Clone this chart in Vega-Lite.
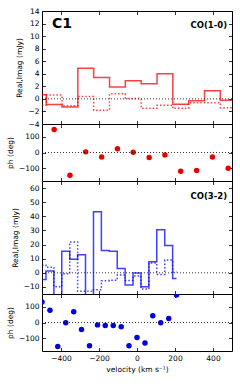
{
  "$schema": "https://vega.github.io/schema/vega-lite/v6.json",
  "autosize": {"type": "pad"},
  "padding": {"left": 5, "top": 6, "right": 3, "bottom": 5},
  "bounds": "flush",
  "datasets": {
    "co10": [
      {"v": -519, "re": 0.64, "im": -1.0},
      {"v": -436, "re": -0.9, "im": 0.6},
      {"v": -353, "re": -1.3, "im": -1.1},
      {"v": -270, "re": 4.9, "im": 0.4},
      {"v": -186, "re": 3.4, "im": -1.8},
      {"v": -103, "re": 1.9, "im": 0.8},
      {"v": -20, "re": 2.9, "im": 0.05},
      {"v": 64, "re": 2.4, "im": -1.5},
      {"v": 147, "re": 4.0, "im": -1.0},
      {"v": 230, "re": -0.85, "im": -1.5},
      {"v": 314, "re": -0.3, "im": -0.6},
      {"v": 397, "re": 1.3, "im": -0.6},
      {"v": 480, "re": -0.2, "im": -1.4},
      {"v": 563, "re": -0.2, "im": -1.4}
    ],
    "ph10": [
      {"v": -436, "ph": 145},
      {"v": -353, "ph": -143},
      {"v": -270, "ph": 4},
      {"v": -186, "ph": -28},
      {"v": -103, "ph": 23},
      {"v": -20, "ph": 2},
      {"v": 64, "ph": -32},
      {"v": 147, "ph": -15},
      {"v": 230, "ph": -119},
      {"v": 314, "ph": -113},
      {"v": 397, "ph": -28},
      {"v": 480, "ph": -100}
    ],
    "co32": [
      {"v": -500, "re": -4.7, "im": 5.4},
      {"v": -458, "re": 1.2, "im": 4.0},
      {"v": -417, "re": -18.6, "im": -9.9},
      {"v": -375, "re": 15.3, "im": -0.7},
      {"v": -333, "re": 9.6, "im": 21.9},
      {"v": -292, "re": 12.7, "im": -13},
      {"v": -250, "re": -20, "im": -13},
      {"v": -208, "re": 43.3, "im": -12},
      {"v": -167, "re": 15.8, "im": -5.6},
      {"v": -125, "re": 15.3, "im": -5.3},
      {"v": -83, "re": 3.1, "im": -1.5},
      {"v": -42, "re": -8.7, "im": -5.5},
      {"v": 0, "re": -0.2, "im": -2.2},
      {"v": 42, "re": -9.9, "im": -11.5},
      {"v": 83, "re": 7.8, "im": 7.0},
      {"v": 125, "re": 30.4, "im": -1.2},
      {"v": 167, "re": 19.3, "im": 9.0},
      {"v": 208, "re": -4.0, "im": 0.5}
    ],
    "ph32": [
      {"v": -500, "ph": 129},
      {"v": -458, "ph": 77},
      {"v": -417, "ph": -152},
      {"v": -375, "ph": -2},
      {"v": -333, "ph": 68},
      {"v": -292, "ph": -44},
      {"v": -250, "ph": -147},
      {"v": -208, "ph": -15},
      {"v": -167, "ph": -19},
      {"v": -125, "ph": -19},
      {"v": -83, "ph": -27},
      {"v": -42, "ph": -147},
      {"v": 0, "ph": -95},
      {"v": 42, "ph": -130},
      {"v": 83, "ph": 42},
      {"v": 125, "ph": -2},
      {"v": 167, "ph": 25},
      {"v": 208, "ph": 173}
    ]
  },
  "spacing": 0,
  "vconcat": [
    {
      "width": 190, "height": 113,
      "resolve": {"axis": {"x": "independent", "y": "independent"}},
      "layer": [
        {
          "data": {"name": "co10"},
          "mark": {"type": "line", "interpolate": "step", "color": "#ff0000", "opacity": 0.75, "strokeWidth": 1.5, "clip": true},
          "encoding": {
            "x": {"field": "v", "type": "quantitative", "scale": {"domain": [-500, 500], "nice": false}, "axis": {"orient": "bottom", "values": [-400, -200, 0, 200, 400], "labels": false, "title": null}},
            "y": {"field": "re", "type": "quantitative", "scale": {"domain": [-4, 14], "nice": false, "zero": false}, "axis": {"orient": "left", "values": [-4, -2, 0, 2, 4, 6, 8, 10, 12, 14], "title": "Real,Imag (mJy)"}}
          }
        },
        {
          "data": {"name": "co10"},
          "mark": {"type": "line", "interpolate": "step", "color": "#ff0000", "opacity": 0.75, "strokeWidth": 1.5, "strokeDash": [1.5, 2], "clip": true},
          "encoding": {
            "x": {"field": "v", "type": "quantitative", "scale": {"domain": [-500, 500], "nice": false}, "axis": null},
            "y": {"field": "im", "type": "quantitative", "scale": {"domain": [-4, 14], "nice": false, "zero": false}, "axis": null}
          }
        },
        {
          "data": {"values": [{}]},
          "mark": {"type": "rule", "color": "#000", "strokeWidth": 0.8, "strokeDash": [1, 2]},
          "encoding": {
            "x": {"datum": -500, "type": "quantitative", "scale": {"domain": [-500, 500], "nice": false}, "axis": {"orient": "top", "values": [-400, -200, 0, 200, 400], "labels": false, "title": null}},
            "x2": {"datum": 500},
            "y": {"datum": 0, "type": "quantitative", "scale": {"domain": [-4, 14], "nice": false, "zero": false}, "axis": {"orient": "right", "values": [-4, -2, 0, 2, 4, 6, 8, 10, 12, 14], "labels": false, "title": null}}
          }
        },
        {
          "data": {"values": [{}]},
          "mark": {"type": "text", "text": "C1", "align": "left", "baseline": "alphabetic", "fontSize": 14, "fontWeight": "bold", "font": "DejaVu Sans", "color": "#000"},
          "encoding": {
            "x": {"datum": -447, "type": "quantitative", "scale": {"domain": [-500, 500], "nice": false}, "axis": null},
            "y": {"datum": 11.3, "type": "quantitative", "scale": {"domain": [-4, 14], "nice": false, "zero": false}, "axis": null}
          }
        },
        {
          "data": {"values": [{}]},
          "mark": {"type": "text", "text": "CO(1-0)", "align": "right", "baseline": "alphabetic", "fontSize": 8.5, "fontWeight": "bold", "font": "DejaVu Sans", "color": "#000"},
          "encoding": {
            "x": {"datum": 474, "type": "quantitative", "scale": {"domain": [-500, 500], "nice": false}, "axis": null},
            "y": {"datum": 11.3, "type": "quantitative", "scale": {"domain": [-4, 14], "nice": false, "zero": false}, "axis": null}
          }
        }
      ]
    },
    {
      "width": 190, "height": 57,
      "resolve": {"axis": {"x": "independent", "y": "independent"}},
      "layer": [
        {
          "data": {"name": "ph10"},
          "mark": {"type": "point", "filled": true, "size": 30, "color": "#e80000", "opacity": 1, "clip": true},
          "encoding": {
            "x": {"field": "v", "type": "quantitative", "scale": {"domain": [-500, 500], "nice": false}, "axis": {"orient": "bottom", "values": [-400, -200, 0, 200, 400], "labels": false, "title": null}},
            "y": {"field": "ph", "type": "quantitative", "scale": {"domain": [-180, 180], "nice": false, "zero": false}, "axis": {"orient": "left", "values": [-100, 0, 100], "title": "ph (deg)"}}
          }
        },
        {
          "data": {"values": [{}]},
          "mark": {"type": "rule", "color": "#000", "strokeWidth": 0.8, "strokeDash": [1, 2]},
          "encoding": {
            "x": {"datum": -500, "type": "quantitative", "scale": {"domain": [-500, 500], "nice": false}, "axis": {"orient": "top", "values": [-400, -200, 0, 200, 400], "labels": false, "title": null}},
            "x2": {"datum": 500},
            "y": {"datum": 0, "type": "quantitative", "scale": {"domain": [-180, 180], "nice": false, "zero": false}, "axis": {"orient": "right", "values": [-100, 0, 100], "labels": false, "title": null}}
          }
        }
      ]
    },
    {
      "width": 190, "height": 113,
      "resolve": {"axis": {"x": "independent", "y": "independent"}},
      "layer": [
        {
          "data": {"name": "co32"},
          "mark": {"type": "line", "interpolate": "step", "color": "#0000ff", "opacity": 0.75, "strokeWidth": 1.5, "clip": true},
          "encoding": {
            "x": {"field": "v", "type": "quantitative", "scale": {"domain": [-500, 500], "nice": false}, "axis": {"orient": "bottom", "values": [-400, -200, 0, 200, 400], "labels": false, "title": null}},
            "y": {"field": "re", "type": "quantitative", "scale": {"domain": [-15, 65], "nice": false, "zero": false}, "axis": {"orient": "left", "values": [-10, 0, 10, 20, 30, 40, 50, 60], "title": "Real,Imag (mJy)"}}
          }
        },
        {
          "data": {"name": "co32"},
          "mark": {"type": "line", "interpolate": "step", "color": "#0000ff", "opacity": 0.75, "strokeWidth": 1.5, "strokeDash": [1.5, 2], "clip": true},
          "encoding": {
            "x": {"field": "v", "type": "quantitative", "scale": {"domain": [-500, 500], "nice": false}, "axis": null},
            "y": {"field": "im", "type": "quantitative", "scale": {"domain": [-15, 65], "nice": false, "zero": false}, "axis": null}
          }
        },
        {
          "data": {"values": [{}]},
          "mark": {"type": "rule", "color": "#000", "strokeWidth": 0.8, "strokeDash": [1, 2]},
          "encoding": {
            "x": {"datum": -500, "type": "quantitative", "scale": {"domain": [-500, 500], "nice": false}, "axis": {"orient": "top", "values": [-400, -200, 0, 200, 400], "labels": false, "title": null}},
            "x2": {"datum": 500},
            "y": {"datum": 0, "type": "quantitative", "scale": {"domain": [-15, 65], "nice": false, "zero": false}, "axis": {"orient": "right", "values": [-10, 0, 10, 20, 30, 40, 50, 60], "labels": false, "title": null}}
          }
        },
        {
          "data": {"values": [{}]},
          "mark": {"type": "text", "text": "CO(3-2)", "align": "right", "baseline": "alphabetic", "fontSize": 8.5, "fontWeight": "bold", "font": "DejaVu Sans", "color": "#000"},
          "encoding": {
            "x": {"datum": 474, "type": "quantitative", "scale": {"domain": [-500, 500], "nice": false}, "axis": null},
            "y": {"datum": 52.3, "type": "quantitative", "scale": {"domain": [-15, 65], "nice": false, "zero": false}, "axis": null}
          }
        }
      ]
    },
    {
      "width": 190, "height": 57,
      "resolve": {"axis": {"x": "independent", "y": "independent"}},
      "layer": [
        {
          "data": {"name": "ph32"},
          "mark": {"type": "point", "filled": true, "size": 30, "color": "#0000e0", "opacity": 1, "clip": true},
          "encoding": {
            "x": {"field": "v", "type": "quantitative", "scale": {"domain": [-500, 500], "nice": false}, "axis": {"orient": "bottom", "values": [-400, -200, 0, 200, 400], "title": "velocity (km s⁻¹)"}},
            "y": {"field": "ph", "type": "quantitative", "scale": {"domain": [-180, 180], "nice": false, "zero": false}, "axis": {"orient": "left", "values": [-100, 0, 100], "title": "ph (deg)"}}
          }
        },
        {
          "data": {"values": [{}]},
          "mark": {"type": "rule", "color": "#000", "strokeWidth": 0.8, "strokeDash": [1, 2]},
          "encoding": {
            "x": {"datum": -500, "type": "quantitative", "scale": {"domain": [-500, 500], "nice": false}, "axis": {"orient": "top", "values": [-400, -200, 0, 200, 400], "labels": false, "title": null}},
            "x2": {"datum": 500},
            "y": {"datum": 0, "type": "quantitative", "scale": {"domain": [-180, 180], "nice": false, "zero": false}, "axis": {"orient": "right", "values": [-100, 0, 100], "labels": false, "title": null}}
          }
        }
      ]
    }
  ],
  "config": {
    "font": "DejaVu Sans",
    "view": {"stroke": "#000", "strokeWidth": 1},
    "axis": {
      "grid": false,
      "domain": false,
      "tickColor": "#000",
      "tickSize": -3.5,
      "tickWidth": 0.8,
      "labelPadding": 6.5,
      "labelFont": "DejaVu Sans",
      "labelFontSize": 7.5,
      "labelColor": "#000",
      "titleFont": "DejaVu Sans",
      "titleFontSize": 7.5,
      "titleFontWeight": "normal",
      "titleColor": "#000",
      "titlePadding": 4
    }
  }
}
